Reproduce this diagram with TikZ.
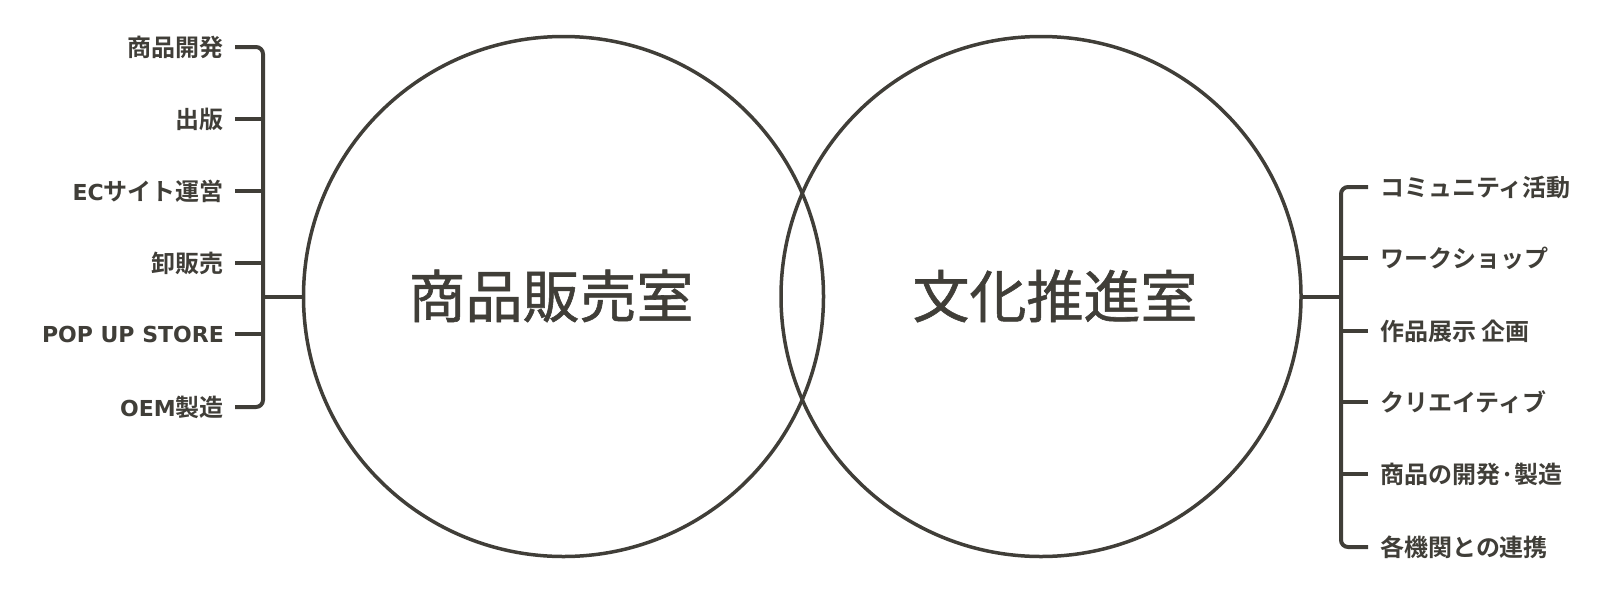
\documentclass[tikz,border=0pt]{standalone}
\usepackage{fontspec}
\newfontfamily\jpb{Noto Sans CJK JP Bold}
\newfontfamily\jpr[FakeBold=1]{Noto Sans CJK JP}
\newfontfamily\latb{DejaVu Sans Bold}
\newcommand\lt[1]{{\latb\fontsize{22}{26}\selectfont #1}}
\definecolor{ink}{RGB}{64,62,56}
\begin{document}
\begin{tikzpicture}[x=1pt,y=-1pt,
  ring/.style={circle,draw=ink,line width=3.5pt,minimum size=520pt,inner sep=0pt},
  title/.style={text=ink,font=\jpr\fontsize{57}{60}\selectfont,inner sep=0pt},
  litem/.style={text=ink,font=\jpb\fontsize{24}{26}\selectfont,anchor=east,inner xsep=11pt,inner ysep=0pt},
  ritem/.style={text=ink,font=\jpb\fontsize{24}{26}\selectfont,anchor=west,inner xsep=12pt,inner ysep=0pt},
  branch/.style={draw=ink,line width=4pt,rounded corners=7pt}]
\useasboundingbox (0,0) rectangle (1600,600);
\node[ring] (A) at (563.5,296.5) {};
\node[ring] (B) at (1041,296.5) {};
\node[title] (At) at (551,296) {商品販売室};
\node[title] (Bt) at (1055,296) {文化推進室};
% left items
\node[litem] (l1) at (235,47) {商品開発};
\node[litem] (l2) at (235,119) {出版};
\node[litem] (l3) at (235,191) {\lt{EC}サイト運営};
\node[litem] (l4) at (235,263) {卸販売};
\node[litem] (l5) at (235,334) {\lt{POP UP STORE}};
\node[litem] (l6) at (235,407) {\lt{OEM}製造};
\coordinate (lj) at (263,296.5);
\path[branch] (l1.east) -- (l1.east -| lj) -- (l6.east -| lj) -- (l6.east);
\foreach \i in {2,3,4,5} \path[branch] (l\i.east) -- (l\i.east -| lj);
\path[branch] (lj) -- (A.west);
% right items
\node[ritem] (r1) at (1368,187) {コミュニティ活動};
\node[ritem] (r2) at (1368,258) {ワークショップ};
\node[ritem] (r3) at (1368,331) {作品展示 企画};
\node[ritem] (r4) at (1368,402) {クリエイティブ};
\node[ritem] (r5) at (1368,474) {商品の開発·製造};
\node[ritem] (r6) at (1368,547) {各機関との連携};
\coordinate (rj) at (1341,296.5);
\path[branch] (r1.west) -- (r1.west -| rj) -- (r6.west -| rj) -- (r6.west);
\foreach \i in {2,3,4,5} \path[branch] (r\i.west) -- (r\i.west -| rj);
\path[branch] (B.east) -- (rj);
\end{tikzpicture}
\end{document}
